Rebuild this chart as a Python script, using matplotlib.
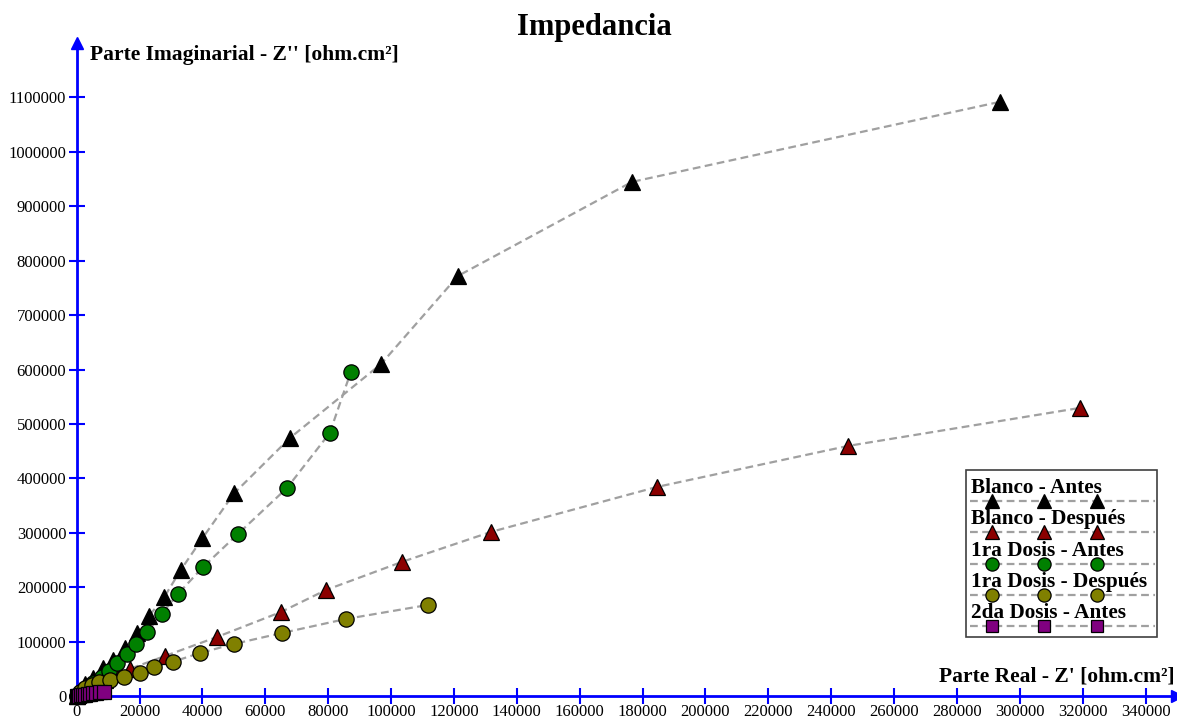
import matplotlib
matplotlib.use("Agg")
import matplotlib.pyplot as plt
from matplotlib.lines import Line2D
from matplotlib.patches import Rectangle
from matplotlib.ticker import FuncFormatter

plt.rcParams["font.family"] = ["Liberation Serif", "DejaVu Serif"]

# --- data ----------------------------------------------------------------
blanco_antes_x = [0, 1000, 2600, 5300, 8500, 11600, 15400, 19300, 23000, 27800,
                  33100, 40000, 50100, 67800, 96800, 121300, 176600, 293600]
blanco_antes_y = [0, 11000, 22000, 32500, 50900, 66200, 87700, 115200, 147000,
                  181400, 231600, 290000, 372600, 474000, 610000, 772000,
                  944700, 1091800]

blanco_desp_x = [0, 2500, 5000, 9000, 12500, 16950, 28100, 44600, 65000, 79300,
                 103400, 131700, 184500, 245300, 319000]
blanco_desp_y = [0, 9000, 18000, 30000, 40400, 50000, 73500, 108400, 154400,
                 194800, 246300, 301400, 384100, 459500, 529300]

dosis1_antes_x = [0, 1500, 3000, 5300, 7900, 10400, 12900, 15900, 18900, 22500,
                  27000, 32200, 40200, 51300, 66900, 80500, 87200]
dosis1_antes_y = [0, 7000, 14000, 24500, 34400, 46500, 60100, 76600, 95000,
                  118200, 150700, 187500, 237100, 297800, 382300, 483400, 595500]

dosis1_desp_x = [0, 1000, 2500, 4800, 7200, 10500, 15000, 20100, 24600, 30700,
                 39200, 50000, 65300, 85600, 111700]
dosis1_desp_y = [0, 7000, 15000, 21000, 25500, 30000, 35500, 41700, 53900,
                 63100, 79000, 95600, 115800, 141500, 167300]

dosis2_antes_x = [0, 300, 700, 1300, 2000, 2700, 3500, 4300, 5200, 6200, 7300, 8700]
dosis2_antes_y = [0, 300, 600, 1100, 1700, 2300, 3000, 3800, 4600, 5500, 6500, 7500]

labels = ["Blanco - Antes", "Blanco - Después", "1ra Dosis - Antes",
          "1ra Dosis - Después", "2da Dosis - Antes"]
colors = ["#000000", "#8b0000", "#008000", "#808000", "#800080"]
markers = ["^", "^", "o", "o", "s"]
msizes = [11.5, 11.5, 11, 11, 9.5]
series = [(blanco_antes_x, blanco_antes_y), (blanco_desp_x, blanco_desp_y),
          (dosis1_antes_x, dosis1_antes_y), (dosis1_desp_x, dosis1_desp_y),
          (dosis2_antes_x, dosis2_antes_y)]

# --- figure ----------------------------------------------------------------
W, H = 1177, 719
fig = plt.figure(figsize=(W / 100, H / 100), dpi=100)
ax = fig.add_axes([76.7 / W, 23 / H, (W - 76.7) / W, 653 / H])
ax.set_xlim(0, 350000)
ax.set_ylim(0, 1200000)

line_kw = dict(color="#a0a0a0", ls=(0, (3.5, 2)), lw=1.6)
for (x, y), c, m, ms in zip(series, colors, markers, msizes):
    ax.plot(x, y, **line_kw, zorder=2)
    ax.plot(x, y, ls="none", marker=m, ms=ms, mfc=c, mec="black", mew=0.9,
            clip_on=False, zorder=3)

# axes look: blue arrows, crossing ticks
blue = "#0000ff"
for s in ["top", "right"]:
    ax.spines[s].set_visible(False)
for s in ["left", "bottom"]:
    ax.spines[s].set_color(blue)
    ax.spines[s].set_linewidth(2)
ax.plot(1, 0, ">", color=blue, ms=8, transform=ax.transAxes, clip_on=False)
ax.plot(0, 1, "^", color=blue, ms=8, transform=ax.transAxes, clip_on=False)

ax.set_xticks(range(0, 340001, 20000))
ax.set_yticks(range(0, 1100001, 100000))
plain = FuncFormatter(lambda v, p: f"{int(v)}")
ax.xaxis.set_major_formatter(plain)
ax.yaxis.set_major_formatter(plain)
ax.tick_params(direction="inout", length=11, width=1.5, color=blue,
               labelsize=12)
ax.tick_params(axis="x", pad=0)
ax.tick_params(axis="y", pad=2)

fig.text(90 / W, 1 - 55 / H, "Parte Imaginarial - Z'' [ohm.cm²]",
         fontsize=15.5, fontweight="bold", va="center", ha="left")
fig.text(1175 / W, 1 - 677 / H, "Parte Real - Z' [ohm.cm²]",
         fontsize=15.5, fontweight="bold", va="center", ha="right")
fig.text(594 / W, 1 - 28 / H, "Impedancia", fontsize=22, fontweight="bold",
         va="center", ha="center")

# --- legend (drawn by hand to mimic the original layout) -------------------
fig.patches.append(Rectangle((966 / W, 1 - 637 / H), 191 / W, 167 / H,
                             transform=fig.transFigure, fill=True, fc="white",
                             ec="#404040", lw=1.2, zorder=5))
for i, (lab, c, m, ms) in enumerate(zip(labels, colors, markers, msizes)):
    ty = 488 + i * 31.3
    ly = ty + 13
    fig.text(971 / W, 1 - ty / H, lab, fontsize=15.3, fontweight="bold",
             va="center", ha="left", zorder=6)
    fig.add_artist(Line2D([970 / W, 1155 / W], [1 - ly / H] * 2,
                          transform=fig.transFigure, zorder=6, **line_kw))
    fig.add_artist(Line2D([992 / W, 1044 / W, 1097 / W], [1 - ly / H] * 3,
                          transform=fig.transFigure, ls="none", marker=m,
                          ms=ms - 1.5, mfc=c, mec="black", mew=0.9, zorder=7))

fig.savefig("out.png", dpi=100)
